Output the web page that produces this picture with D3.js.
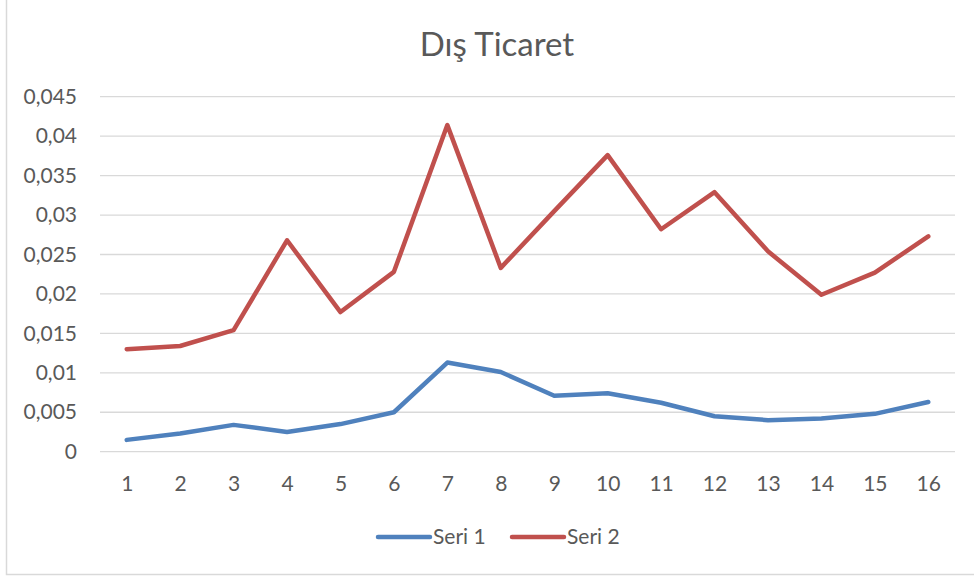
<!DOCTYPE html>
<html><head><meta charset="utf-8">
<script src="https://cdn.jsdelivr.net/npm/d3@7"></script>
<style>
html,body{margin:0;padding:0;background:#fff;}
svg{display:block;}
text{font-family:Lato,"Open Sans",sans-serif;fill:#595959;}
</style></head>
<body>
<svg id="c" width="974" height="579"></svg>
<script>
const categories = ["1","2","3","4","5","6","7","8","9","10","11","12","13","14","15","16"];
const seri1 = [0.0015,0.0023,0.0034,0.0025,0.0035,0.0050,0.0113,0.0101,0.0071,0.0074,0.0062,0.0045,0.0040,0.0042,0.0048,0.0063];
const seri2 = [0.0130,0.0134,0.0154,0.0268,0.0177,0.0228,0.0414,0.0233,0.0305,0.0376,0.0282,0.0329,0.0254,0.0199,0.0227,0.0273];
const yTicks = [0,0.005,0.01,0.015,0.02,0.025,0.03,0.035,0.04,0.045];
const yTickLabels = ["0","0,005","0,01","0,015","0,02","0,025","0,03","0,035","0,04","0,045"];
const seriesNames = ["Seri 1","Seri 2"];
const colors = ["#4f81bd","#c0504d"];
const title = "Dış Ticaret";

const svg = d3.select("#c");
// chart border
svg.append("rect").attr("x",6.5).attr("y",-5).attr("width",980).attr("height",579.5)
  .attr("fill","none").attr("stroke","#d9d9d9").attr("stroke-width",1.5);

const pL=100, pR=955, pT=96.7, pB=451.7;
const x = d3.scalePoint().domain(categories).range([pL,pR]).padding(0.5);
const y = d3.scaleLinear().domain([0,0.045]).range([pB,pT]);

// gridlines
svg.append("g").selectAll("line").data(yTicks).join("line")
  .attr("x1",pL).attr("x2",pR).attr("y1",d=>y(d)).attr("y2",d=>y(d))
  .attr("stroke","#d9d9d9").attr("stroke-width",1.3);

// y axis labels
const yAxis = svg.append("g").attr("transform",`translate(${pL},0)`)
  .call(d3.axisLeft(y).tickValues(yTicks).tickSize(0).tickPadding(23)
    .tickFormat((d,i)=>yTickLabels[i]));
yAxis.select(".domain").remove();
yAxis.selectAll("text").style("font-size","21px").attr("fill","#595959").style("font-family","Lato,'Open Sans',sans-serif");

// x axis labels
const xAxis = svg.append("g").attr("transform",`translate(0,${pB})`)
  .call(d3.axisBottom(x).tickSize(0).tickPadding(24));
xAxis.select(".domain").remove();
xAxis.selectAll("text").style("font-size","21px").attr("fill","#595959").style("font-family","Lato,'Open Sans',sans-serif");

// lines
const line = d3.line().x((d,i)=>x(categories[i])).y(d=>y(d));
[seri1,seri2].forEach((s,k)=>{
  svg.append("path").datum(s).attr("d",line).attr("fill","none")
    .attr("stroke",colors[k]).attr("stroke-width",4.5)
    .attr("stroke-linejoin","round").attr("stroke-linecap","round");
});

// title
svg.append("text").attr("x",497).attr("y",56).attr("text-anchor","middle")
  .style("font-size","33px").text(title);

// legend
const legendItems = [{x:378},{x:512}];
legendItems.forEach((it,k)=>{
  svg.append("line").attr("x1",it.x).attr("x2",it.x+52).attr("y1",537).attr("y2",537)
    .attr("stroke",colors[k]).attr("stroke-width",4.5).attr("stroke-linecap","round");
  svg.append("text").attr("x",it.x+55).attr("y",544).style("font-size","21px").text(seriesNames[k]);
});
</script>
</body></html>
